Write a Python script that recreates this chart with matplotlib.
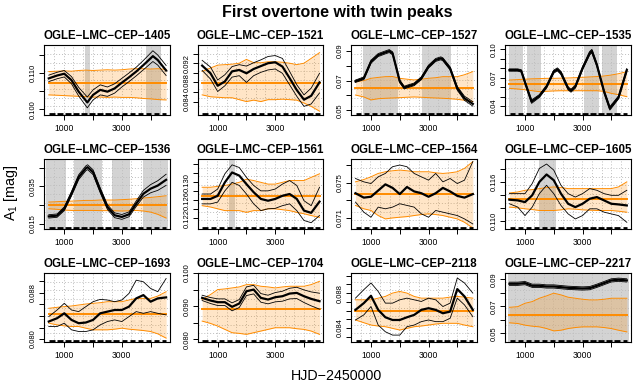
import numpy as np
import matplotlib
matplotlib.use('Agg')
import matplotlib.pyplot as plt
from matplotlib.transforms import blended_transform_factory

plt.rcParams['font.family'] = ['Liberation Sans', 'DejaVu Sans']
plt.rcParams['mathtext.fontset'] = 'custom'
plt.rcParams['mathtext.rm'] = 'Liberation Sans'
plt.rcParams['mathtext.it'] = 'Liberation Sans:italic'

# ---------------- data ----------------
hjd = [460, 750, 1000, 1250, 1500, 1750, 2000, 2250, 2500, 2750, 3000, 3250, 3500, 3750, 4000, 4250, 4540]
stars = ['1405', '1521', '1527', '1535', '1536', '1561', '1564', '1605', '1693', '1704', '2118', '2217']

rug_start = [470, 750, 1030, 1310, 1590, 1870, 2150, 2430, 2710, 2990, 3270, 3550, 3830, 4110, 4390]
rug_end = [660, 940, 1220, 1500, 1780, 2060, 2340, 2620, 2900, 3180, 3460, 3740, 4020, 4300, 4540]

# 1405
x_1405 = [460, 750, 1000, 1250, 1500, 1800, 2000, 2250, 2500, 2750, 3000, 3250, 3500, 3750, 4080, 4250, 4540]
c_1405 = [0.1086, 0.1094, 0.1099, 0.1081, 0.1049, 0.1019, 0.1040, 0.1054, 0.1049, 0.1058, 0.1074, 0.1089, 0.1105, 0.1123, 0.1148, 0.1137, 0.1108]
hi_1405 = [0.1095, 0.1103, 0.1108, 0.1091, 0.1061, 0.1034, 0.1054, 0.1068, 0.1062, 0.1071, 0.1086, 0.1101, 0.1117, 0.1136, 0.1163, 0.1151, 0.1122]
lo_1405 = [0.1077, 0.1085, 0.1090, 0.1071, 0.1037, 0.1004, 0.1026, 0.1040, 0.1036, 0.1045, 0.1062, 0.1077, 0.1093, 0.1110, 0.1133, 0.1123, 0.1094]
om_1405 = 0.1072
ou_1405 = [0.1105, 0.1106, 0.1107, 0.1106, 0.1108, 0.1109, 0.1108, 0.1109, 0.1110, 0.1109, 0.1110, 0.1112, 0.1113, 0.1113, 0.1112, 0.1113, 0.1111]
ol_1405 = [0.1040, 0.1039, 0.1038, 0.1037, 0.1036, 0.1035, 0.1034, 0.1034, 0.1033, 0.1034, 0.1033, 0.1033, 0.1032, 0.1030, 0.1029, 0.1027, 0.1026]
gray_1405 = [(1730, 1900), (3840, 4350)]
yt_1405 = [0.100, 0.105, 0.110, 0.115]
yl_1405 = ['0.100', '', '0.110', '']

# 1521
c_1521 = [0.0915, 0.0899, 0.0873, 0.0882, 0.0903, 0.0906, 0.0899, 0.0908, 0.0914, 0.0920, 0.0922, 0.0913, 0.0889, 0.0864, 0.0844, 0.0852, 0.0880]
hi_1521 = [0.0926, 0.0912, 0.0885, 0.0896, 0.0913, 0.0917, 0.0914, 0.0921, 0.0927, 0.0934, 0.0936, 0.0930, 0.0903, 0.0875, 0.0854, 0.0868, 0.0899]
lo_1521 = [0.0905, 0.0887, 0.0861, 0.0873, 0.0891, 0.0894, 0.0880, 0.0894, 0.0901, 0.0906, 0.0908, 0.0899, 0.0875, 0.0851, 0.0830, 0.0835, 0.0858]
om_1521 = 0.0878
ou_1521 = [0.0903, 0.0910, 0.0916, 0.0917, 0.0918, 0.0920, 0.0928, 0.0921, 0.0921, 0.0923, 0.0923, 0.0922, 0.0920, 0.0917, 0.0920, 0.0930, 0.0942]
ol_1521 = [0.0854, 0.0850, 0.0849, 0.0848, 0.0848, 0.0844, 0.0840, 0.0843, 0.0840, 0.0844, 0.0844, 0.0845, 0.0844, 0.0843, 0.0837, 0.0830, 0.0820]
gray_1521 = []
yt_1521 = [0.084, 0.086, 0.088, 0.090, 0.092, 0.094]
yl_1521 = ['0.084', '', '0.088', '', '0.092', '']

# 1527
x_1527 = [460, 750, 1000, 1250, 1500, 1636, 1750, 1900, 2000, 2156, 2250, 2500, 2750, 3000, 3250, 3428, 3500, 3750, 4000, 4250, 4540]
c_1527 = [0.0696, 0.0716, 0.0828, 0.0873, 0.0891, 0.0900, 0.0885, 0.0772, 0.0695, 0.0653, 0.0660, 0.0675, 0.0716, 0.0795, 0.0840, 0.0851, 0.0844, 0.0783, 0.0648, 0.0581, 0.0543]
ci_1527 = [0.0008, 0.0009, 0.0010, 0.0010, 0.0010, 0.0010, 0.0010, 0.0010, 0.0009, 0.0009, 0.0009, 0.0009, 0.0009, 0.0010, 0.0010, 0.0010, 0.0010, 0.0010, 0.0012, 0.0014, 0.0015]
om_1527 = 0.0648
ou_1527 = [0.0693, 0.0700, 0.0716, 0.0722, 0.0727, 0.0728, 0.0716, 0.0710, 0.0705, 0.0710, 0.0716, 0.0720, 0.0727, 0.0727, 0.0727, 0.0740, 0.0761]
ol_1527 = [0.0603, 0.0590, 0.0570, 0.0578, 0.0581, 0.0583, 0.0585, 0.0588, 0.0590, 0.0588, 0.0585, 0.0583, 0.0581, 0.0578, 0.0574, 0.0568, 0.0558]
gray_1527 = [(711, 1925), (2757, 3775)]
yt_1527 = [0.05, 0.06, 0.07, 0.08, 0.09]
yl_1527 = ['0.05', '', '0.07', '', '0.09']

# 1535
x_1535 = [460, 750, 870, 1000, 1230, 1500, 1750, 2000, 2128, 2250, 2500, 2600, 2750, 3000, 3250, 3326, 3500, 3750, 3950, 4250, 4540]
c_1535 = [0.0781, 0.0781, 0.0772, 0.0651, 0.0446, 0.0506, 0.0605, 0.0764, 0.0788, 0.0750, 0.0587, 0.0562, 0.0605, 0.0799, 0.0960, 0.0982, 0.0834, 0.0552, 0.0375, 0.0490, 0.0781]
ci_1535 = [0.0012, 0.0012, 0.0012, 0.0015, 0.0018, 0.0015, 0.0015, 0.0016, 0.0016, 0.0016, 0.0016, 0.0016, 0.0016, 0.0016, 0.0018, 0.0018, 0.0016, 0.0016, 0.0018, 0.0016, 0.0016]
om_1535 = 0.0633
ou_1535 = [0.0675, 0.0680, 0.0684, 0.0688, 0.0690, 0.0693, 0.0693, 0.0695, 0.0697, 0.0700, 0.0704, 0.0708, 0.0712, 0.0718, 0.0728, 0.0742, 0.0764]
ol_1535 = [0.0587, 0.0580, 0.0572, 0.0562, 0.0552, 0.0556, 0.0560, 0.0562, 0.0562, 0.0562, 0.0562, 0.0562, 0.0562, 0.0555, 0.0534, 0.0520, 0.0499]
gray_1535 = [(453, 919), (1081, 1547), (3035, 3558), (3674, 4198)]
yt_1535 = [0.04, 0.05, 0.06, 0.07, 0.08, 0.09, 0.10]
yl_1535 = ['0.04', '', '', '0.07', '', '', '0.10']

# 1536
x_1536 = [460, 750, 1000, 1250, 1500, 1750, 1810, 2000, 2250, 2500, 2750, 3000, 3250, 3500, 3750, 4000, 4250, 4540]
c_1536 = [0.0189, 0.0193, 0.0230, 0.0311, 0.0400, 0.0448, 0.0454, 0.0427, 0.0329, 0.0239, 0.0195, 0.0186, 0.0200, 0.0257, 0.0311, 0.0338, 0.0355, 0.0386]
ci_1536 = [0.0009, 0.0009, 0.0010, 0.0012, 0.0013, 0.0013, 0.0013, 0.0013, 0.0013, 0.0013, 0.0013, 0.0013, 0.0013, 0.0015, 0.0018, 0.0022, 0.0026, 0.0030]
om_1536 = 0.0248
ou_1536 = [0.0266, 0.0268, 0.0270, 0.0271, 0.0273, 0.0275, 0.0275, 0.0277, 0.0277, 0.0277, 0.0279, 0.0281, 0.0284, 0.0288, 0.0291, 0.0295, 0.0300]
ol_1536 = [0.0230, 0.0227, 0.0223, 0.0221, 0.0221, 0.0221, 0.0221, 0.0220, 0.0220, 0.0219, 0.0218, 0.0219, 0.0221, 0.0218, 0.0212, 0.0200, 0.0180]
gray_1536 = [(364, 1058), (1324, 2306), (2653, 3289), (3751, 4600)]
yt_1536 = [0.015, 0.025, 0.035, 0.045]
yl_1536 = ['0.015', '', '0.035', '']

# 1561
c_1561 = [0.1263, 0.1263, 0.1270, 0.1300, 0.1322, 0.1315, 0.1296, 0.1278, 0.1263, 0.1259, 0.1263, 0.1270, 0.1274, 0.1263, 0.1237, 0.1232, 0.1257]
hi_1561 = [0.1274, 0.1274, 0.1285, 0.1319, 0.1339, 0.1333, 0.1311, 0.1293, 0.1281, 0.1281, 0.1285, 0.1296, 0.1304, 0.1293, 0.1259, 0.1248, 0.1289]
lo_1561 = [0.1252, 0.1252, 0.1256, 0.1281, 0.1300, 0.1293, 0.1274, 0.1252, 0.1237, 0.1241, 0.1242, 0.1248, 0.1252, 0.1237, 0.1215, 0.1210, 0.1226]
om_1561 = 0.1270
ou_1561 = [0.1289, 0.1289, 0.1291, 0.1293, 0.1296, 0.1300, 0.1307, 0.1304, 0.1300, 0.1296, 0.1296, 0.1300, 0.1304, 0.1304, 0.1304, 0.1311, 0.1319]
ol_1561 = [0.1248, 0.1245, 0.1241, 0.1237, 0.1237, 0.1237, 0.1233, 0.1237, 0.1237, 0.1241, 0.1241, 0.1239, 0.1237, 0.1233, 0.1230, 0.1226, 0.1222]
gray_1561 = [(1393, 1595)]
yt_1561 = [0.122, 0.124, 0.126, 0.128, 0.130, 0.132, 0.134]
yl_1561 = ['0.122', '', '0.126', '', '0.130', '', '']

# 1564
c_1564 = [0.0738, 0.0733, 0.0734, 0.0741, 0.0748, 0.0744, 0.0737, 0.0745, 0.0740, 0.0738, 0.0734, 0.0738, 0.0744, 0.0740, 0.0735, 0.0733, 0.0737]
hi_1564 = [0.07546, 0.07508, 0.07489, 0.07565, 0.07603, 0.07679, 0.07698, 0.07679, 0.07603, 0.07565, 0.07527, 0.07603, 0.07508, 0.07546, 0.07489, 0.07527, 0.07736]
lo_1564 = [0.07280, 0.07166, 0.07109, 0.07223, 0.07204, 0.07223, 0.07261, 0.07242, 0.07223, 0.07147, 0.07109, 0.07185, 0.07166, 0.07147, 0.07128, 0.07090, 0.07033]
om_1564 = 0.0737
ou_1564 = [0.07508, 0.07534, 0.07565, 0.07603, 0.07622, 0.07633, 0.07641, 0.07633, 0.07622, 0.07622, 0.07622, 0.07610, 0.07603, 0.07610, 0.07622, 0.07660, 0.07736]
ol_1564 = [0.07242, 0.07204, 0.07185, 0.07128, 0.07090, 0.07101, 0.07109, 0.07116, 0.07128, 0.07139, 0.07147, 0.07139, 0.07128, 0.07109, 0.07090, 0.07052, 0.06987]
gray_1564 = []
yt_1564 = [0.071, 0.073, 0.075, 0.077]
yl_1564 = ['0.071', '', '0.075', '']

# 1605
c_1605 = [0.11324, 0.11313, 0.11287, 0.11392, 0.11600, 0.11715, 0.11626, 0.11418, 0.11261, 0.11209, 0.11261, 0.11339, 0.11365, 0.11313, 0.11261, 0.11251, 0.11235]
hi_1605 = [0.11418, 0.11418, 0.11418, 0.11574, 0.11809, 0.11877, 0.11783, 0.11548, 0.11418, 0.11365, 0.11418, 0.11496, 0.11470, 0.11418, 0.11392, 0.11392, 0.11470]
lo_1605 = [0.11261, 0.11209, 0.11078, 0.11209, 0.11418, 0.11548, 0.11418, 0.11235, 0.11104, 0.11026, 0.11078, 0.11183, 0.11183, 0.11131, 0.11104, 0.11078, 0.10974]
om_1605 = 0.11339
ou_1605 = [0.11428, 0.11444, 0.11470, 0.11480, 0.11496, 0.11512, 0.11522, 0.11512, 0.11496, 0.11496, 0.11496, 0.11496, 0.11496, 0.11496, 0.11496, 0.11522, 0.11600]
ol_1605 = [0.11209, 0.11198, 0.11183, 0.11172, 0.11157, 0.11157, 0.11157, 0.11167, 0.11183, 0.11177, 0.11167, 0.11162, 0.11157, 0.11157, 0.11157, 0.11146, 0.11130]
gray_1605 = [(1503, 2095)]
yt_1605 = [0.110, 0.112, 0.114, 0.116, 0.118]
yl_1605 = ['0.110', '', '', '0.116', '']

# 1693
c_1693 = [0.08303, 0.08360, 0.08445, 0.08331, 0.08274, 0.08286, 0.08331, 0.08445, 0.08474, 0.08502, 0.08502, 0.08560, 0.08702, 0.08759, 0.08645, 0.08702, 0.08719]
hi_1693 = [0.08388, 0.08502, 0.08617, 0.08502, 0.08474, 0.08560, 0.08645, 0.08685, 0.08674, 0.08645, 0.08674, 0.08788, 0.09016, 0.08988, 0.08874, 0.08817, 0.09045]
lo_1693 = [0.08217, 0.08217, 0.08274, 0.08160, 0.08131, 0.08131, 0.08160, 0.08246, 0.08303, 0.08331, 0.08303, 0.08388, 0.08474, 0.08445, 0.08474, 0.08445, 0.08417]
om_1693 = 0.08428
ou_1693 = [0.08531, 0.08548, 0.08560, 0.08571, 0.08588, 0.08605, 0.08617, 0.08628, 0.08645, 0.08645, 0.08645, 0.08674, 0.08702, 0.08702, 0.08702, 0.08742, 0.08817]
ol_1693 = [0.08274, 0.08246, 0.08228, 0.08217, 0.08217, 0.08188, 0.08160, 0.08160, 0.08160, 0.08171, 0.08188, 0.08171, 0.08160, 0.08148, 0.08131, 0.08091, 0.08017]
gray_1693 = []
yt_1693 = [0.080, 0.082, 0.084, 0.086, 0.088, 0.090]
yl_1693 = ['0.080', '', '', '', '0.088', '']

# 1704
c_1704 = [0.0925, 0.0917, 0.0912, 0.0912, 0.0898, 0.0908, 0.0945, 0.0950, 0.0925, 0.0920, 0.0927, 0.0930, 0.0938, 0.0940, 0.0930, 0.0922, 0.0915]
ci_1704 = [0.0008, 0.0009, 0.0010, 0.0010, 0.0012, 0.0012, 0.0013, 0.0013, 0.0013, 0.0013, 0.0014, 0.0015, 0.0016, 0.0017, 0.0019, 0.0021, 0.0024]
om_1704 = 0.0892
ou_1704 = [0.0920, 0.0935, 0.0950, 0.0952, 0.0955, 0.0958, 0.0965, 0.0965, 0.0960, 0.0958, 0.0955, 0.0958, 0.0960, 0.0960, 0.0960, 0.0965, 0.0975]
ol_1704 = [0.0855, 0.0848, 0.0840, 0.0830, 0.0820, 0.0818, 0.0815, 0.0820, 0.0825, 0.0830, 0.0835, 0.0835, 0.0835, 0.0832, 0.0830, 0.0825, 0.0815]
gray_1704 = []
yt_1704 = [0.080, 0.085, 0.090, 0.095, 0.100]
yl_1704 = ['0.080', '', '0.090', '', '0.100']

# 2118
c_2118 = [0.08608, 0.08685, 0.08769, 0.08608, 0.08523, 0.08492, 0.08492, 0.08523, 0.08550, 0.08608, 0.08627, 0.08608, 0.08569, 0.08588, 0.08846, 0.08762, 0.08608]
hi_2118 = [0.08742, 0.08839, 0.08916, 0.08819, 0.08685, 0.08685, 0.08723, 0.08742, 0.08723, 0.08704, 0.08742, 0.08723, 0.08646, 0.08685, 0.08973, 0.08916, 0.08800]
lo_2118 = [0.08492, 0.08550, 0.08646, 0.08434, 0.08357, 0.08319, 0.08319, 0.08415, 0.08434, 0.08473, 0.08492, 0.08473, 0.08473, 0.08511, 0.08742, 0.08665, 0.08530]
om_2118 = 0.0860
ou_2118 = [0.08723, 0.08723, 0.08723, 0.08742, 0.08762, 0.08800, 0.08819, 0.08800, 0.08762, 0.08742, 0.08742, 0.08742, 0.08742, 0.08754, 0.08762, 0.08754, 0.08742]
ol_2118 = [0.08492, 0.08461, 0.08434, 0.08423, 0.08415, 0.08396, 0.08377, 0.08396, 0.08415, 0.08423, 0.08434, 0.08446, 0.08454, 0.08454, 0.08454, 0.08434, 0.08415]
gray_2118 = []
yt_2118 = [0.083, 0.084, 0.085, 0.086, 0.087, 0.088, 0.089, 0.090]
yl_2118 = ['', '0.084', '', '', '', '0.088', '', '']

# 2217
c_2217 = [0.08675, 0.08675, 0.08725, 0.08525, 0.08525, 0.08475, 0.08475, 0.08425, 0.08375, 0.08350, 0.08325, 0.08350, 0.08525, 0.08725, 0.08925, 0.08975, 0.08925]
ci_2217 = [0.0012, 0.0012, 0.0012, 0.0012, 0.0012, 0.0012, 0.0012, 0.0012, 0.0012, 0.0012, 0.0012, 0.0012, 0.0012, 0.0012, 0.0012, 0.0012, 0.0012]
om_2217 = 0.0635
ou_2217 = [0.06925, 0.06975, 0.07225, 0.07350, 0.07600, 0.07775, 0.07975, 0.07850, 0.07675, 0.07600, 0.07525, 0.07475, 0.07475, 0.07525, 0.07600, 0.07600, 0.07600]
ol_2217 = [0.05775, 0.05725, 0.05600, 0.05525, 0.05475, 0.05350, 0.05175, 0.05225, 0.05350, 0.05425, 0.05475, 0.05475, 0.05475, 0.05425, 0.05350, 0.05225, 0.05100]
gray_2217 = [(420, 4620)]
yt_2217 = [0.05, 0.06, 0.07, 0.08, 0.09]
yl_2217 = ['0.05', '', '0.07', '', '0.09']

g = globals()

# ---------------- layout / style ----------------
ylims = {'1405': (0.0984, 0.1179), '1521': (0.0812, 0.0958), '1527': (0.0468, 0.0941),
         '1535': (0.0305, 0.1046), '1536': (0.0121, 0.0498), '1561': (0.1196, 0.1352),
         '1564': (0.06976, 0.07766), '1605': (0.1087, 0.11955), '1693': (0.0795, 0.0914),
         '1704': (0.0792, 0.1000), '2118': (0.0824, 0.0903), '2217': (0.0435, 0.09475)}
XLIM = (305, 4675)
W, H = 635, 386
col_left = [44.3, 197.7, 351.0, 505.0]
col_w = 125.7
row_top = [45, 159, 273]
row_h = [70, 70, 69]

ORANGE = '#FF8C00'
GRAY = '#D3D3D3'
GRIDC = '#BEBEBE'

fig = plt.figure(figsize=(W / 100, H / 100), dpi=100)

for i, s in enumerate(stars):
    r, c = divmod(i, 4)
    ax = fig.add_axes([col_left[c] / W, 1 - (row_top[r] + row_h[r]) / H, col_w / W, row_h[r] / H])
    ylo, yhi = ylims[s]
    ax.set_xlim(*XLIM)
    ax.set_ylim(ylo, yhi)
    xo = np.array(hjd, dtype=float)
    xb = np.array(g.get('x_' + s, hjd), dtype=float)
    cen = np.array(g['c_' + s])
    if ('ci_' + s) in g:
        ci = np.array(g['ci_' + s])
        hi, lo = cen + ci, cen - ci
    else:
        hi, lo = np.array(g['hi_' + s]), np.array(g['lo_' + s])
    ou, ol = np.array(g['ou_' + s]), np.array(g['ol_' + s])

    for (a, b) in g['gray_' + s]:
        ax.axvspan(a, b, color=GRAY, lw=0, zorder=0.5)
    for gx in np.linspace(XLIM[0], XLIM[1], 14)[1:-1]:
        ax.axvline(gx, color=GRIDC, lw=0.7, ls=(0, (1, 2)), zorder=0.8)
    for gy in np.linspace(ylo, yhi, 9)[1:-1]:
        ax.axhline(gy, color=GRIDC, lw=0.7, ls=(0, (1, 2)), zorder=0.8)

    ax.fill_between(xo, ol, ou, color=ORANGE, alpha=0.22, lw=0, zorder=1)
    ax.plot(xo, ou, color=ORANGE, lw=0.7, zorder=2)
    ax.plot(xo, ol, color=ORANGE, lw=0.7, zorder=2)
    ax.plot([xo[0], xo[-1]], [g['om_' + s]] * 2, color=ORANGE, lw=1.4, zorder=2.5)
    ax.plot(xb, hi, color='black', lw=0.6, zorder=3)
    ax.plot(xb, lo, color='black', lw=0.6, zorder=3)
    ax.plot(xb, cen, color='black', lw=1.6, zorder=3.5)

    tr = blended_transform_factory(ax.transData, ax.transAxes)
    ax.hlines([0.02] * len(rug_start), rug_start, rug_end, transform=tr,
              color='black', lw=2.0, capstyle='butt', zorder=4)

    ax.set_xticks([1000, 2000, 3000, 4000])
    ax.set_xticklabels(['1000', '', '3000', ''])
    ax.set_yticks(g['yt_' + s])
    ax.set_yticklabels(g['yl_' + s], rotation=90, va='center')
    ax.tick_params(axis='both', direction='out', length=3.6, width=0.7, color='black')
    ax.tick_params(axis='x', pad=3.2, labelsize=6.2)
    ax.tick_params(axis='y', pad=1.6, labelsize=5.5)
    for sp in ax.spines.values():
        sp.set_linewidth(0.8)
        sp.set_color('black')
    ax.set_title('OGLE\u2212LMC\u2212CEP\u2212' + s, fontsize=8.3, fontweight='bold', pad=4.5)

fig.text(337 / W, 1 - 12 / H, 'First overtone with twin peaks', ha='center', va='center',
         fontsize=11.5, fontweight='bold')
fig.text(337 / W, 1 - 376 / H, 'HJD\u22122450000', ha='center', va='center', fontsize=10.3)
fig.text(11 / W, 1 - 193 / H, r'A$_1$ [mag]', ha='center', va='center', rotation=90, fontsize=10.3)

fig.savefig('out.png', dpi=100)
